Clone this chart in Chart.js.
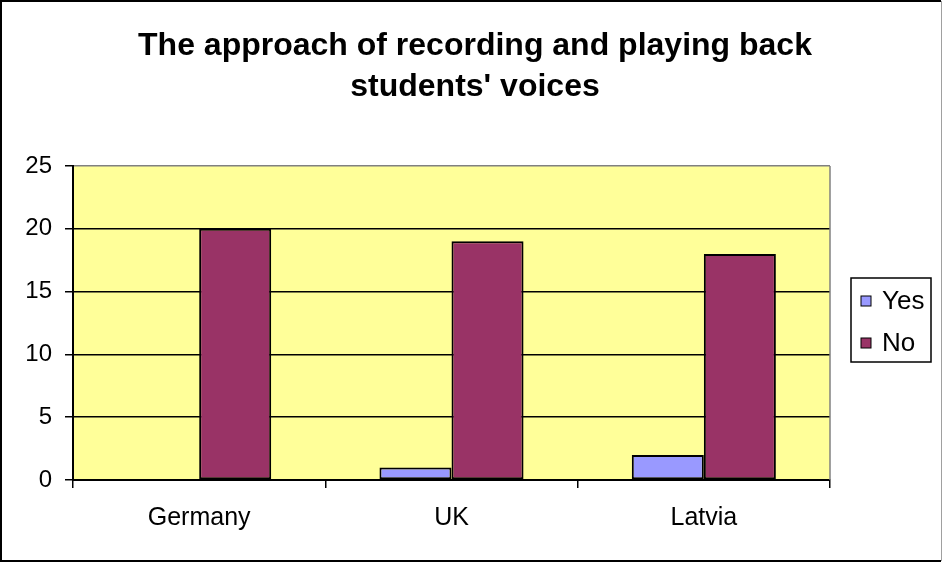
<!DOCTYPE html>
<html>
<head>
<meta charset="utf-8">
<script src="https://cdn.jsdelivr.net/npm/chart.js@4/dist/chart.umd.min.js"></script>
<style>
  html, body { margin: 0; padding: 0; background: #ffffff; }
  canvas { display: block; }
</style>
</head>
<body>
<canvas id="chart" width="942" height="564"></canvas>
<script>
// Survey answers per country
const countries = ['Germany', 'UK', 'Latvia'];
const yesValues = [0, 1, 2];
const noValues = [20, 19, 18];
const seriesNames = ['Yes', 'No'];
const titleLines = ['The approach of recording and playing back', "students' voices"];
const yTicks = [0, 5, 10, 15, 20, 25];

const FONT = '"Liberation Sans", Arial, sans-serif';
const YES_COLOR = '#9999FF';
const NO_COLOR = '#993366';
const PLOT_BG = '#FFFF99';

// Yellow plot background, outer frame, top/right plot edges
const framePlugin = {
  id: 'frame',
  beforeDraw(chart) {
    const { ctx, chartArea: a } = chart;
    ctx.save();
    ctx.fillStyle = '#ffffff';
    ctx.fillRect(0, 0, chart.width, chart.height);
    ctx.fillStyle = PLOT_BG;
    ctx.fillRect(a.left, a.top, a.right - a.left, a.bottom - a.top);
    ctx.restore();
  },
  afterDraw(chart) {
    const { ctx, chartArea: a } = chart;
    ctx.save();
    // right edge of plot area
    ctx.strokeStyle = '#808080';
    ctx.lineWidth = 1.5;
    ctx.beginPath();
    ctx.moveTo(a.right, a.top);
    ctx.lineTo(a.right, a.bottom);
    ctx.stroke();
    // outer frame
    ctx.strokeStyle = '#000000';
    ctx.lineWidth = 2;
    ctx.beginPath();
    ctx.moveTo(941, 1);
    ctx.lineTo(1, 1);
    ctx.lineTo(1, 561);
    ctx.lineTo(941, 561);
    ctx.stroke();
    ctx.strokeStyle = '#a0a0a0';
    ctx.lineWidth = 1;
    ctx.beginPath();
    ctx.moveTo(941.5, 1);
    ctx.lineTo(941.5, 561);
    ctx.stroke();
    ctx.restore();
  }
};

// Two-line bold heading
const titlePlugin = {
  id: 'twoLineTitle',
  afterDraw(chart) {
    const { ctx } = chart;
    ctx.save();
    ctx.fillStyle = '#000000';
    ctx.font = 'bold 32px ' + FONT;
    ctx.textAlign = 'center';
    ctx.textBaseline = 'middle';
    ctx.fillText(titleLines[0], 475, 46);
    ctx.fillText(titleLines[1], 475, 87);
    ctx.restore();
  }
};

// Boxed legend to the right of the plot
const legendBoxPlugin = {
  id: 'legendBox',
  afterDraw(chart) {
    const { ctx } = chart;
    const x = 851, y = 278, w = 80, h = 84;
    ctx.save();
    ctx.fillStyle = '#ffffff';
    ctx.fillRect(x, y, w, h);
    ctx.strokeStyle = '#000000';
    ctx.lineWidth = 1.5;
    ctx.strokeRect(x, y, w, h);
    ctx.font = '26px ' + FONT;
    ctx.textBaseline = 'middle';
    ctx.textAlign = 'left';
    chart.data.datasets.forEach((ds, i) => {
      const cy = 301 + i * 42;
      ctx.fillStyle = ds.backgroundColor;
      ctx.fillRect(861, cy - 5, 10, 10);
      ctx.strokeStyle = '#000000';
      ctx.lineWidth = 1;
      ctx.strokeRect(861, cy - 5, 10, 10);
      ctx.fillStyle = '#000000';
      ctx.fillText(ds.label, 882, cy + 1);
    });
    ctx.restore();
  }
};

new Chart(document.getElementById('chart'), {
  type: 'bar',
  data: {
    labels: countries,
    datasets: [
      { label: seriesNames[0], data: yesValues, backgroundColor: YES_COLOR, borderColor: '#000000', borderWidth: 2, borderSkipped: false },
      { label: seriesNames[1], data: noValues, backgroundColor: NO_COLOR, borderColor: '#000000', borderWidth: 2, borderSkipped: false }
    ]
  },
  options: {
    responsive: false,
    devicePixelRatio: 1,
    animation: false,
    layout: { padding: { top: 166, right: 112, left: 0, bottom: 0 } },
    plugins: {
      legend: { display: false },
      title: { display: false },
      tooltip: { enabled: false }
    },
    datasets: {
      bar: { categoryPercentage: 0.571, barPercentage: 1.0 }
    },
    scales: {
      x: {
        offset: true,
        afterFit(scale) { scale.height = 84; },
        grid: {
          offset: true,
          drawOnChartArea: false,
          drawTicks: true,
          tickLength: 8,
          color: '#000000',
          lineWidth: 1.5
        },
        border: { display: true, color: '#000000', width: 2 },
        ticks: {
          color: '#000000',
          font: { family: FONT, size: 25 },
          padding: 15,
          maxRotation: 0
        }
      },
      y: {
        min: 0,
        max: 25,
        afterFit(scale) { scale.width = 73; },
        afterBuildTicks(scale) { scale.ticks = yTicks.map(v => ({ value: v })); },
        grid: {
          color: ctx => (ctx.tick && ctx.tick.value === 25 ? '#808080' : '#000000'),
          tickColor: '#000000',
          lineWidth: 1.5,
          tickLength: 8
        },
        border: { display: true, color: '#000000', width: 2 },
        ticks: {
          color: '#000000',
          font: { family: FONT, size: 24 },
          padding: 13
        }
      }
    }
  },
  plugins: [framePlugin, titlePlugin, legendBoxPlugin]
});
</script>
</body>
</html>
